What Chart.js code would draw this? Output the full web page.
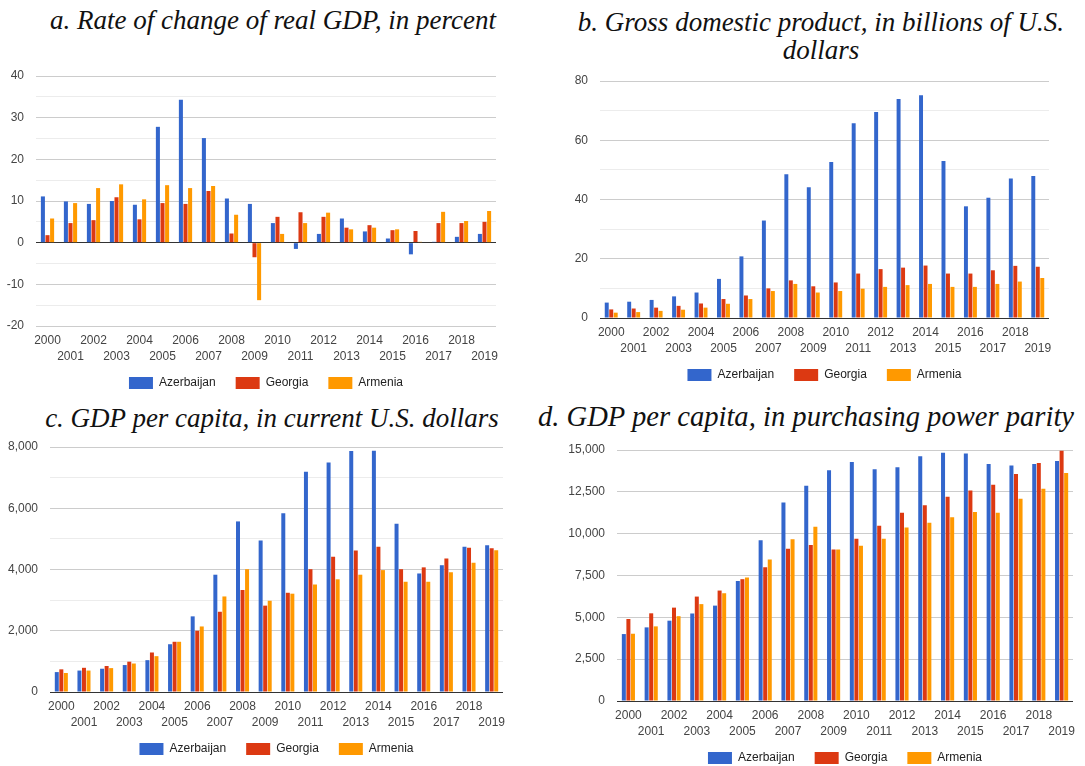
<!DOCTYPE html>
<html>
<head>
<meta charset="utf-8">
<script src="https://cdn.jsdelivr.net/npm/chart.js@4.4.0/dist/chart.umd.min.js"></script>
<style>
  body { margin: 0; background: #fff; width: 1085px; height: 766px; overflow: hidden; position: relative; }
  .title { position: absolute; font-family: "Liberation Serif", "Times New Roman", serif; font-style: italic;
           font-size: 27px; line-height: 28px; color: #111; text-align: center; white-space: nowrap; }
  .box { position: absolute; }
</style>
</head>
<body>
<div class="title" style="left:3px;top:6px;width:540px">a. Rate of change of real GDP, in percent</div>
<div class="title" style="left:551px;top:8px;width:540px">b. Gross domestic product, in billions of U.S.<br>dollars</div>
<div class="title" style="left:2px;top:404px;width:540px">c. GDP per capita, in current U.S. dollars</div>
<div class="title" style="left:536px;top:403px;width:540px;font-size:28.6px">d. GDP per capita, in purchasing power parity</div>

<div class="box" style="left:0;top:56px;width:540px;height:352px"><canvas id="chartA"></canvas></div>
<div class="box" style="left:545px;top:61px;width:540px;height:339px"><canvas id="chartB"></canvas></div>
<div class="box" style="left:0;top:427px;width:540px;height:347px"><canvas id="chartC"></canvas></div>
<div class="box" style="left:545px;top:430px;width:540px;height:353px"><canvas id="chartD"></canvas></div>

<script>
const years = ['2000','2001','2002','2003','2004','2005','2006','2007','2008','2009',
               '2010','2011','2012','2013','2014','2015','2016','2017','2018','2019'];
const countries = ['Azerbaijan', 'Georgia', 'Armenia'];
const colors = ['#3366cc', '#dc3912', '#ff9900'];

// a. real GDP growth, %
const growthAze = [11.1, 9.9, 9.3, 10.0, 9.1, 27.8, 34.3, 25.1, 10.6, 9.3, 4.7, -1.5, 2.1, 5.8, 2.7, 1.0, -2.8, 0.2, 1.4, 2.1];
const growthGeo = [1.8, 4.7, 5.4, 10.9, 5.6, 9.5, 9.3, 12.4, 2.2, -3.5, 6.2, 7.3, 6.2, 3.6, 4.2, 3.0, 2.8, 4.7, 4.7, 5.0];
const growthArm = [5.8, 9.5, 13.1, 14.0, 10.4, 13.8, 13.1, 13.6, 6.7, -13.8, 2.1, 4.7, 7.2, 3.2, 3.6, 3.2, 0.2, 7.4, 5.2, 7.6];

// b. GDP, billions of U.S. dollars
const gdpAze = [5.2, 5.5, 6.1, 7.3, 8.6, 13.2, 20.8, 32.9, 48.5, 44.1, 52.7, 65.7, 69.5, 73.9, 75.2, 53.0, 37.7, 40.6, 47.1, 47.9];
const gdpGeo = [2.9, 3.2, 3.5, 4.1, 4.9, 6.4, 7.6, 10.0, 12.7, 10.7, 12.0, 15.0, 16.5, 17.0, 17.7, 15.0, 15.0, 16.1, 17.6, 17.3];
const gdpArm = [1.8, 2.0, 2.4, 2.8, 3.5, 4.8, 6.4, 9.1, 11.5, 8.6, 9.1, 9.9, 10.5, 11.1, 11.5, 10.5, 10.5, 11.5, 12.3, 13.5];

// c. GDP per capita, current U.S. dollars
const pcAze = [650, 700, 760, 880, 1040, 1560, 2470, 3830, 5570, 4950, 5840, 7190, 7490, 7870, 7880, 5490, 3870, 4140, 4740, 4790];
const pcGeo = [740, 790, 850, 990, 1290, 1640, 2000, 2620, 3330, 2820, 3240, 4010, 4420, 4620, 4740, 4010, 4070, 4360, 4710, 4690];
const pcArm = [620, 700, 780, 930, 1170, 1640, 2140, 3120, 4010, 2980, 3210, 3510, 3680, 3830, 3980, 3600, 3600, 3910, 4220, 4630];

// d. GDP per capita, PPP
const pppAze = [4000, 4400, 4800, 5230, 5700, 7170, 9600, 11860, 12860, 13790, 14290, 13850, 13970, 14630, 14840, 14790, 14170, 14070, 14170, 14340];
const pppGeo = [4900, 5240, 5580, 6240, 6600, 7280, 8000, 9100, 9320, 9050, 9700, 10480, 11250, 11700, 12200, 12580, 12920, 13570, 14230, 14950];
const pppArm = [4020, 4460, 5070, 5790, 6440, 7380, 8450, 9660, 10420, 9050, 9280, 9700, 10370, 10650, 10980, 11300, 11250, 12090, 12680, 13630];

const tickFont = { family: '"Liberation Sans", Arial, sans-serif', size: 12 };

// pull the legend up a little, closer to the two rows of year labels
const nudgeLegend = {
  id: 'nudgeLegend',
  afterLayout(chart) {
    const l = chart.legend;
    l.top -= 9;
    l.bottom -= 9;
  }
};

function makeChart(id, series, yopt, yWidth, padRight) {
  new Chart(document.getElementById(id), {
    type: 'bar',
    data: {
      labels: years,
      datasets: series.map((d, i) => ({
        label: countries[i],
        data: d,
        backgroundColor: colors[i],
        borderWidth: 0,
        barPercentage: 0.88,
        categoryPercentage: 0.6
      }))
    },
    plugins: [nudgeLegend],
    options: {
      responsive: true,
      maintainAspectRatio: false,
      animation: false,
      layout: { padding: { top: 20, right: padRight, left: 0, bottom: 0 } },
      plugins: {
        legend: {
          position: 'bottom',
          fullSize: false,
          labels: { boxWidth: 24, boxHeight: 12, padding: 20, color: '#222', font: tickFont }
        },
        tooltip: { enabled: false }
      },
      scales: {
        x: {
          grid: { display: false, drawTicks: false },
          border: { display: false },
          afterFit: s => { s.height = 40; },
          ticks: {
            autoSkip: false, maxRotation: 0, padding: 7, color: '#444',
            font: Object.assign({ lineHeight: 1.34 }, tickFont),
            callback: (v, i) => (i % 2 === 1 ? ['', years[i]] : years[i])
          }
        },
        y: {
          min: yopt.min, max: yopt.max,
          border: { display: false },
          afterFit: s => { s.width = yWidth; },
          grid: {
            drawTicks: false,
            lineWidth: 1,
            color: c => c.tick.value === 0 ? '#333' : (c.tick.value % yopt.label === 0 ? '#cccccc' : '#ececec')
          },
          ticks: {
            stepSize: yopt.step, padding: 12, color: '#444', font: tickFont,
            callback: v => (v % yopt.label === 0 ? v.toLocaleString('en-US') : '')
          }
        }
      }
    }
  });
}

makeChart('chartA', [growthAze, growthGeo, growthArm], { min: -20, max: 40, step: 5, label: 10 }, 36, 44);
makeChart('chartB', [gdpAze, gdpGeo, gdpArm], { min: 0, max: 80, step: 10, label: 20 }, 55, 36);
makeChart('chartC', [pcAze, pcGeo, pcArm], { min: 0, max: 8000, step: 1000, label: 2000 }, 50, 37);
makeChart('chartD', [pppAze, pppGeo, pppArm], { min: 0, max: 15000, step: 2500, label: 2500 }, 72, 12);
</script>
</body>
</html>
